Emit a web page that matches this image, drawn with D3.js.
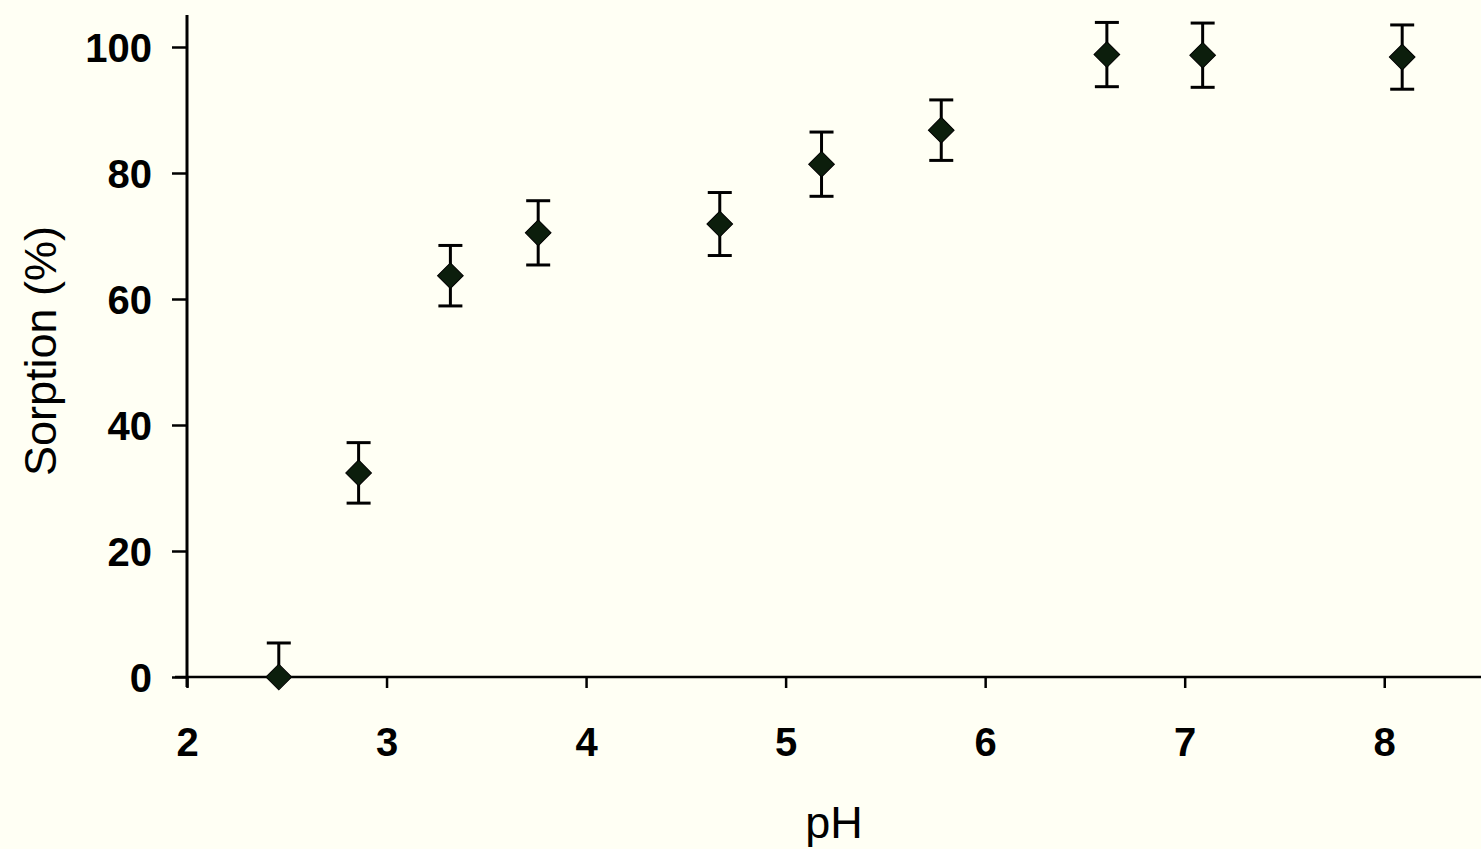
<!DOCTYPE html>
<html>
<head>
<meta charset="utf-8">
<script src="https://cdnjs.cloudflare.com/ajax/libs/d3/7.8.5/d3.min.js"></script>
<style>
  html, body { margin: 0; padding: 0; background: #fffff4; }
  svg { display: block; }
  .tick text { font-family: "Liberation Sans", Arial, sans-serif; font-weight: bold; font-size: 40px; fill: #000; }
  .axis-title { font-family: "Liberation Sans", Arial, sans-serif; font-size: 45px; fill: #000; }
</style>
</head>
<body>
<svg id="chart" width="1481" height="849"></svg>
<script>
// pH vs sorption, readings
const ph = [2.46, 2.86, 3.32, 3.76, 4.67, 5.18, 5.78, 6.61, 7.09, 8.09]
const sorption = [0, 32.4, 63.7, 70.5, 71.9, 81.4, 86.8, 98.8, 98.7, 98.4]
const errs = [5.4, 4.8, 4.8, 5.1, 5.0, 5.1, 4.8, 5.1, 5.1, 5.1]
const xTicks = [2, 3, 4, 5, 6, 7, 8]
const yTicks = [0, 20, 40, 60, 80, 100]

const svg = d3.select('#chart')

const x = d3.scaleLinear().domain([2, 8.5]).range([187, 1484])
const y = d3.scaleLinear().domain([0, 100]).range([677, 47])

// x axis
let xAxis = svg.append('g')
  .attr('transform', `translate(0,${y(0)})`)
  .call(d3.axisBottom(x).tickValues(xTicks).tickFormat(d3.format('d'))
    .tickSize(11).tickSizeOuter(0).tickPadding(40))
xAxis.select('.domain').remove()
xAxis.selectAll('.tick line').attr('stroke', '#000').attr('stroke-width', 2.5)
xAxis.append('line')
  .attr('x1', 175).attr('x2', 1481)
  .attr('stroke', '#000').attr('stroke-width', 2.5)

// y axis
let yAxis = svg.append('g')
  .attr('transform', `translate(${x(2)},0)`)
  .call(d3.axisLeft(y).tickValues(yTicks).tickFormat(d3.format('d'))
    .tickSize(15).tickSizeOuter(0).tickPadding(20))
yAxis.select('.domain').remove()
yAxis.selectAll('.tick line').attr('stroke', '#000').attr('stroke-width', 2.5)
yAxis.selectAll('.tick text').attr('dy', '0.36em')
yAxis.append('line')
  .attr('y1', 15).attr('y2', 687)
  .attr('stroke', '#000').attr('stroke-width', 3)

// error bars
const pts = ph.map((p, i) => ({ p: p, s: sorption[i], e: errs[i] }))
const bars = svg.append('g').attr('class', 'errorbars')
bars.selectAll('line.stem')
  .data(pts).join('line')
  .attr('class', 'stem')
  .attr('x1', d => x(d.p)).attr('x2', d => x(d.p))
  .attr('y1', d => y(d.s + d.e)).attr('y2', d => y(Math.max(0, d.s - d.e)))
  .attr('stroke', '#000').attr('stroke-width', 3)
bars.selectAll('line.cap-top')
  .data(pts).join('line')
  .attr('class', 'cap-top')
  .attr('x1', d => x(d.p) - 12).attr('x2', d => x(d.p) + 12)
  .attr('y1', d => y(d.s + d.e)).attr('y2', d => y(d.s + d.e))
  .attr('stroke', '#000').attr('stroke-width', 3)
bars.selectAll('line.cap-bot')
  .data(pts.filter(d => d.s - d.e > 0)).join('line')
  .attr('class', 'cap-bot')
  .attr('x1', d => x(d.p) - 12).attr('x2', d => x(d.p) + 12)
  .attr('y1', d => y(d.s - d.e)).attr('y2', d => y(d.s - d.e))
  .attr('stroke', '#000').attr('stroke-width', 3)

// diamond markers
const diamond = d3.symbol().type(d3.symbolSquare).size(330)
svg.append('g').selectAll('path')
  .data(pts).join('path')
  .attr('d', diamond)
  .attr('transform', d => `translate(${x(d.p)},${y(d.s)}) rotate(45)`)
  .attr('fill', '#0c1e0c')
  .attr('stroke', '#000').attr('stroke-width', 1)

// axis titles
svg.append('text').attr('class', 'axis-title')
  .attr('x', 834).attr('y', 838)
  .attr('text-anchor', 'middle')
  .text('pH')
svg.append('text').attr('class', 'axis-title')
  .attr('transform', 'translate(56,351) rotate(-90)')
  .attr('text-anchor', 'middle')
  .text('Sorption (%)')
</script>
</body>
</html>
